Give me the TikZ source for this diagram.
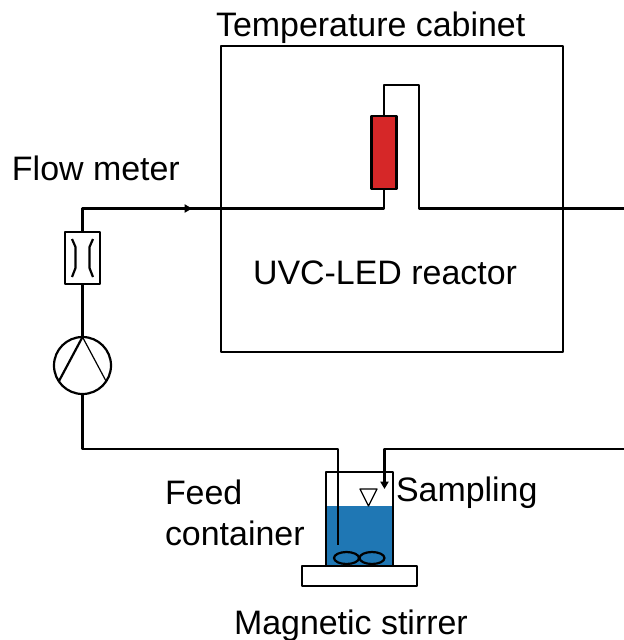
\documentclass[tikz,border=0pt]{standalone}
\usepackage{fontspec}
\setmainfont{Liberation Sans}
\usetikzlibrary{arrows.meta,calc,shapes.geometric}
\definecolor{waterblue}{HTML}{1F77B4}
\definecolor{reactorred}{HTML}{D62728}
\tikzset{
  every picture/.style={line join=round},
  pipe/.style={draw=black,line width=1.65pt},
  thinline/.style={draw=black,line width=0.9pt},
  box/.style={draw=black,line width=1.65pt,rectangle,inner sep=0pt,outer sep=0pt},
  blade/.style={draw=black,line width=1.65pt,ellipse,inner sep=0pt,minimum width=25*0.75pt,minimum height=12*0.75pt},
  lbl/.style={anchor=base west,inner sep=0pt,outer sep=0pt,font=\fontsize{25.45pt}{29pt}\selectfont},
  tip/.style={-{Triangle[length=5.5pt,width=6pt]}},
}
\newcommand{\boxat}[6]{\node[box,#6,minimum width=#4*0.75pt,minimum height=#5*0.75pt] (#1) at (#2,#3) {};}
\begin{document}
\begin{tikzpicture}[x=0.75pt,y=-0.75pt]
\useasboundingbox (0,0) rectangle (624,640);
% cabinet and reactor
\boxat{cabinet}{392}{199}{342}{306}{}
\boxat{reactor}{384}{152.5}{25}{73}{fill=reactorred}
% flow meter and pump
\boxat{meter}{82.5}{258}{35}{52}{}
\node[draw=black,line width=1.65pt,circle,inner sep=0pt,outer sep=0pt,minimum size=57*0.75pt] (pump) at (82.5,365.5) {};
\coordinate (ptop) at (82.5,337);
\coordinate (pl) at (59,381);
\coordinate (pr) at (106,381);
\draw[pipe] (ptop) -- (pl);
\draw[thinline] (ptop) -- (pr);
\coordinate (m1) at (72,239); \coordinate (m2) at (75.5,247); \coordinate (m3) at (75.5,268); \coordinate (m4) at (72,277);
\coordinate (m5) at (93,239); \coordinate (m6) at (89.5,247); \coordinate (m7) at (89.5,268); \coordinate (m8) at (93,277);
\draw[pipe] (m1) -- (m2) -- (m3) -- (m4);
\draw[pipe] (m5) -- (m6) -- (m7) -- (m8);
% beaker
\fill[waterblue] (325.7,506) rectangle (393,566);
\node[box,minimum width=67.5*0.75pt,minimum height=94*0.75pt] (beaker) at (359.5,519) {};
\boxat{plate}{359.5}{576}{115}{20}{}
\node[blade] (blade1) at (346.5,558) {};
\node[blade] (blade2) at (372,558) {};
\coordinate (lv1) at (360,489); \coordinate (lv2) at (377,489); \coordinate (lv3) at (368.5,506);
\draw[thinline] (lv1) -- (lv2) -- (lv3) -- cycle;
% pipes
\coordinate (right1) at (624,208.5);
\coordinate (right2) at (624,449);
\coordinate (c1) at (82.5,208.5);
\coordinate (c2) at (384,208.5);
\coordinate (c3) at (384,85);
\coordinate (c4) at (419,85);
\coordinate (c5) at (419,208.5);
\coordinate (c6) at (82.5,449);
\coordinate (c7) at (338,449);
\coordinate (c8) at (338,545);
\coordinate (c9) at (384.5,449);
\coordinate (c10) at (384.5,489);
\draw[pipe] (meter.north) -- (c1) -- (c2) -- (reactor.south);
\draw[pipe,tip] (c1) -- (192,208.5);
\draw[pipe] (reactor.north) -- (c3) -- (c4) -- (c5) -- (right1);
\draw[pipe] (meter.south) -- (pump.north);
\draw[pipe] (pump.south) -- (c6) -- (c7) -- (c8);
\draw[pipe,tip] (right2) -- (c9) -- (c10);
% labels
\node[lbl] (t1) at (216,36) {Temperature cabinet};
\node[lbl] (t2) at (12,180) {Flow meter};
\node[lbl] (t3) at (253,284) {UVC-LED reactor};
\node[lbl] (t4) at (165,504) {Feed};
\node[lbl] (t5) at (165,545) {container};
\node[lbl] (t6) at (396,501) {Sampling};
\node[lbl] (t7) at (234,634) {Magnetic stirrer};
\end{tikzpicture}
\end{document}
